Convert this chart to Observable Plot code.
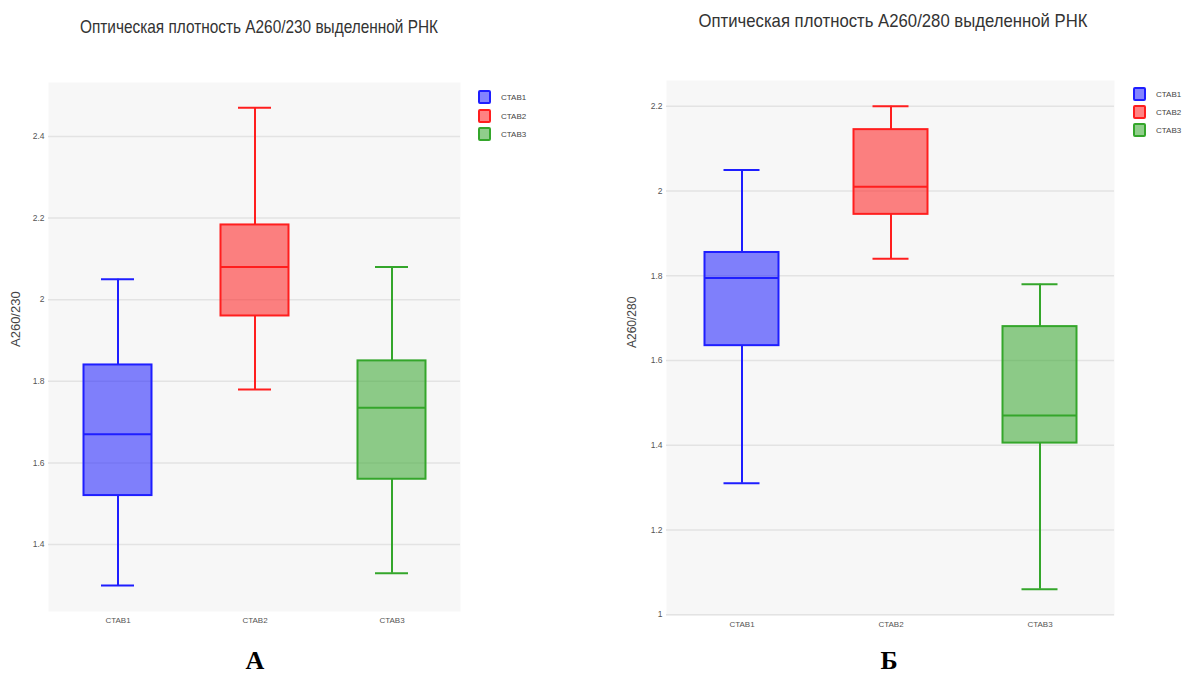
<!DOCTYPE html>
<html>
<head>
<meta charset="utf-8">
<script src="https://cdn.jsdelivr.net/npm/d3@7"></script>
<script src="https://cdn.jsdelivr.net/npm/@observablehq/plot@0.6"></script>
<style>
  html, body { margin: 0; padding: 0; background: #fff; }
  #root { position: relative; width: 1186px; height: 678px; overflow: hidden; background: #fff; font-family: "Liberation Sans", Arial, sans-serif; }
  .panel { position: absolute; top: 0; }
  .title { position: absolute; white-space: nowrap; color: #333; font-family: "Liberation Sans Narrow", "Liberation Sans", Arial, sans-serif; font-size: 18.5px; line-height: 1; transform-origin: center center; }
  .letter { position: absolute; font-family: "Liberation Serif", "DejaVu Serif", serif; font-weight: bold; font-size: 26px; line-height: 1; color: #000; transform: translate(-50%, -50%); }
  .leg { position: absolute; display: flex; align-items: center; font-size: 8px; color: #444; }
  .sw { width: 9px; height: 10px; border: 2px solid; border-radius: 2px; margin-right: 10px; box-sizing: content-box; }
</style>
</head>
<body>
<div id="root"></div>
<script>
// ---------- data ----------
const groups = ["CTAB1", "CTAB2", "CTAB3"];
const colors = ["#1e1eff", "#ff1e1e", "#34a62b"];

// Panel А: A260/230
const title230 = "Оптическая плотность A260/230 выделенной РНК";
const yLabel230 = "A260/230";
const min230 = [1.30, 1.78, 1.33];
const q1_230 = [1.52, 1.96, 1.56];
const med230 = [1.67, 2.08, 1.735];
const q3_230 = [1.84, 2.183, 1.85];
const max230 = [2.05, 2.47, 2.08];
const ticks230 = [1.4, 1.6, 1.8, 2.0, 2.2, 2.4];
const tickLabels230 = ["1.4", "1.6", "1.8", "2", "2.2", "2.4"];

// Panel Б: A260/280
const title280 = "Оптическая плотность A260/280 выделенной РНК";
const yLabel280 = "A260/280";
const min280 = [1.31, 1.84, 1.06];
const q1_280 = [1.635, 1.945, 1.405];
const med280 = [1.795, 2.01, 1.47];
const q3_280 = [1.855, 2.145, 1.68];
const max280 = [2.05, 2.20, 1.78];
const ticks280 = [1.0, 1.2, 1.4, 1.6, 1.8, 2.0, 2.2];
const tickLabels280 = ["1", "1.2", "1.4", "1.6", "1.8", "2", "2.2"];

const panelLetters = ["А", "Б"];

// ---------- chart builder ----------
function boxChart(cfg) {
  const rows = groups.map((g, i) => ({
    group: g, min: cfg.min[i], q1: cfg.q1[i], med: cfg.med[i], q3: cfg.q3[i], max: cfg.max[i]
  }));
  const fmt = d => cfg.labels[cfg.ticks.findIndex(t => Math.abs(t - d) < 1e-9)];
  return Plot.plot({
    width: cfg.width,
    height: cfg.height,
    marginTop: cfg.mt, marginBottom: cfg.mb, marginLeft: cfg.ml, marginRight: cfg.mr,
    style: { background: "transparent", fontFamily: "Liberation Sans, Arial, sans-serif" },
    x: { domain: groups, padding: 0, axis: null },
    y: { domain: cfg.domain, axis: null },
    color: { domain: groups, range: colors },
    marks: [
      Plot.frame({ fill: "#f7f7f7", stroke: "none" }),
      Plot.gridY(cfg.ticks, { stroke: "#e3e3e3", strokeOpacity: 1, strokeWidth: 1.5 }),
      Plot.axisY(cfg.ticks, { tickSize: 0, tickPadding: 4, tickFormat: fmt, fontSize: 8.5, fill: "#555", label: null }),
      Plot.axisX({ tickSize: 0, tickPadding: 6, fontSize: 8, fill: "#555", label: null }),
      Plot.text([cfg.yLabel], { frameAnchor: "left", dx: -cfg.labelOffset, rotate: -90, fontSize: cfg.labelSize, fill: "#444" }),
      Plot.ruleX(rows, { x: "group", y1: "min", y2: "q1", stroke: "group", strokeWidth: 2 }),
      Plot.ruleX(rows, { x: "group", y1: "q3", y2: "max", stroke: "group", strokeWidth: 2 }),
      Plot.barY(rows, { x: "group", y1: "q1", y2: "q3", fill: "group", fillOpacity: 0.55, stroke: "group", strokeWidth: 2, insetLeft: cfg.boxInset, insetRight: cfg.boxInset }),
      Plot.tickY(rows, { x: "group", y: "med", stroke: "group", strokeWidth: 2, insetLeft: cfg.boxInset, insetRight: cfg.boxInset }),
      Plot.tickY(rows, { x: "group", y: "min", stroke: "group", strokeWidth: 2, insetLeft: cfg.capInset, insetRight: cfg.capInset }),
      Plot.tickY(rows, { x: "group", y: "max", stroke: "group", strokeWidth: 2, insetLeft: cfg.capInset, insetRight: cfg.capInset })
    ]
  });
}

const root = document.getElementById("root");

function addPanel(left, svg) {
  const d = document.createElement("div");
  d.className = "panel";
  d.style.left = left + "px";
  d.appendChild(svg);
  root.appendChild(d);
}

addPanel(0, boxChart({
  width: 600, height: 640, mt: 82, mb: 29, ml: 48, mr: 140,
  domain: [1.236, 2.532],
  min: min230, q1: q1_230, med: med230, q3: q3_230, max: max230,
  ticks: ticks230, labels: tickLabels230,
  yLabel: yLabel230, labelOffset: 33, labelSize: 13,
  boxInset: 34.5, capInset: 52
}));

addPanel(600, boxChart({
  width: 586, height: 640, mt: 80, mb: 25, ml: 66, mr: 72,
  domain: [0.998, 2.261],
  min: min280, q1: q1_280, med: med280, q3: q3_280, max: max280,
  ticks: ticks280, labels: tickLabels280,
  yLabel: yLabel280, labelOffset: 34, labelSize: 12,
  boxInset: 37.5, capInset: 56.5
}));

// titles
function addTitle(text, cx, cy, targetW) {
  const s = document.createElement("div");
  s.className = "title";
  s.textContent = text;
  s.style.left = cx + "px";
  s.style.top = cy + "px";
  root.appendChild(s);
  const w = s.getBoundingClientRect().width;
  const k = targetW / w;
  s.style.transform = `translate(-50%, -50%) scaleX(${k})`;
}
addTitle(title230, 259, 27, 358);
addTitle(title280, 893, 21, 389);

// legends
function addLegend(x, ys) {
  groups.forEach((g, i) => {
    const row = document.createElement("div");
    row.className = "leg";
    row.style.left = x + "px";
    row.style.top = (ys[i] - 7) + "px";
    const sw = document.createElement("div");
    sw.className = "sw";
    sw.style.borderColor = colors[i];
    sw.style.background = d3.color(colors[i]).copy({ opacity: 0.55 }).formatRgb();
    const t = document.createElement("span");
    t.textContent = g;
    row.appendChild(sw);
    row.appendChild(t);
    root.appendChild(row);
  });
}
addLegend(478, [97, 116, 134]);
addLegend(1133, [94, 112, 130]);

// panel letters
[[255, 661], [889, 661]].forEach(([x, y], i) => {
  const l = document.createElement("div");
  l.className = "letter";
  l.textContent = panelLetters[i];
  l.style.left = x + "px";
  l.style.top = y + "px";
  root.appendChild(l);
});
</script>
</body>
</html>
